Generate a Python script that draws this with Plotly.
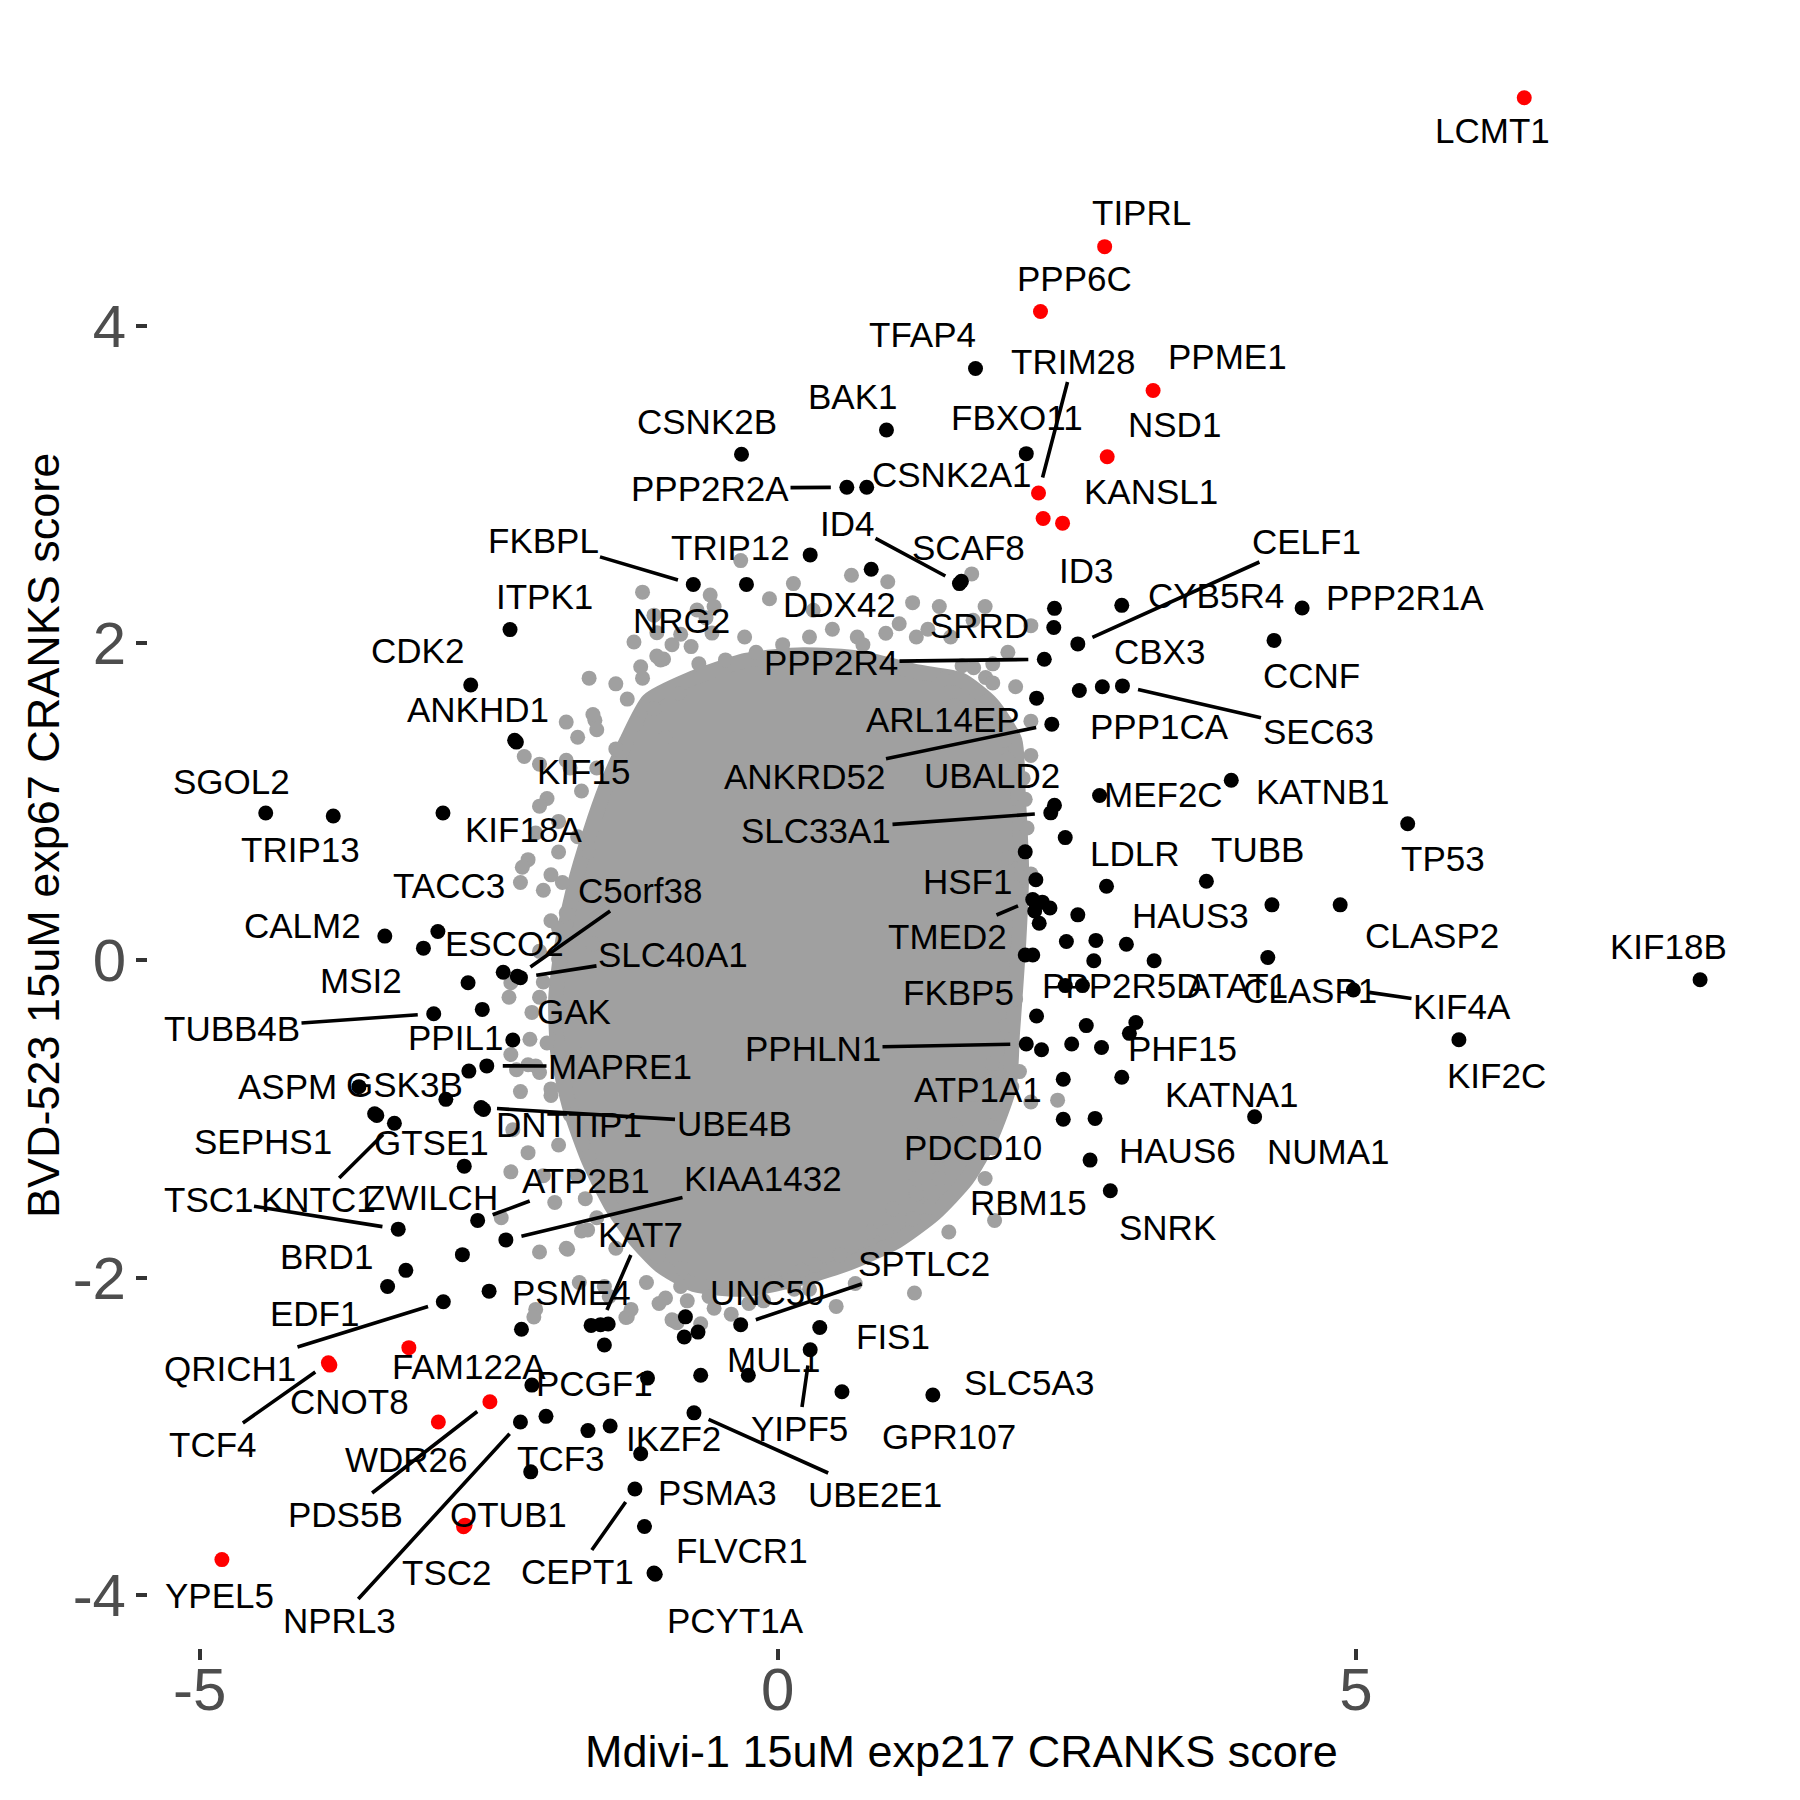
import plotly.graph_objects as go

# ---------------- data ----------------
black_genes = [
    "TFAP4", "BAK1", "CSNK2B", "FBXO11", "PPP2R2A", "CSNK2A1", "ID4", "SCAF8", "TRIP12", "DDX42",
    "FKBPL", "NRG2", "ITPK1", "CDK2", "ANKHD1", "KIF15", "SGOL2", "TRIP13", "KIF18A", "CALM2",
    "TACC3", "ESCO2", "C5orf38", "SLC40A1", "", "MSI2", "TUBB4B", "PPIL1", "GAK", "MAPRE1",
    "GSK3B", "ASPM", "", "UBE4B", "DNTTIP1", "SEPHS1", "GTSE1", "KNTC1", "ZWILCH", "ATP2B1",
    "TSC1", "KIAA1432", "", "BRD1", "EDF1", "PSME4", "QRICH1", "", "", "KAT7",
    "", "", "PCGF1", "", "NPRL3", "", "", "IKZF2", "TCF3", "",
    "CEPT1", "PSMA3", "FLVCR1", "PCYT1A", "SPTLC2", "UNC50", "", "", "FIS1", "YIPF5",
    "MUL1", "", "GPR107", "SLC5A3", "UBE2E1", "ID3", "SRRD", "CELF1", "CYB5R4", "PPP2R4",
    "PPP1CA", "CBX3", "SEC63", "ARL14EP", "ANKRD52", "MEF2C", "KATNB1", "UBALD2", "SLC33A1", "",
    "PPP2R1A", "CCNF", "", "HSF1", "LDLR", "TUBB", "TMED2", "", "", "",
    "", "", "", "", "", "", "", "", "ATAT1", "HAUS3",
    "CLASP2", "CLASP1", "KIF4A", "PPP2R5D", "", "FKBP5", "", "PHF15", "", "PPHLN1",
    "", "", "", "ATP1A1", "KATNA1", "PDCD10", "HAUS6", "RBM15", "SNRK", "KIF2C",
    "NUMA1", "TP53", "KIF18B",
]
black_x = [
    1.710, 0.940, -0.314, 2.149, 0.597, 0.769, 1.571, 1.588, 0.280, 0.808,
    -0.731, -0.271, -2.316, -2.656, -2.276, -2.261, -4.429, -3.845, -2.896, -3.399,
    -2.940, -3.065, -2.253, -2.226, -2.375, -2.679, -2.976, -2.556, -2.292, -2.517,
    -2.672, -3.623, -2.871, -2.567, -2.545, -3.487, -3.468, -3.316, -2.712, -2.596,
    -3.283, -2.352, -2.728, -3.217, -3.375, -2.497, -2.893, -2.217, -1.615, -1.533,
    -1.467, -1.500, -2.127, -1.127, -2.226, -2.005, -1.642, -1.450, -2.137, -1.186,
    -1.236, -1.153, -1.071, -1.060, -0.321, -0.690, -0.799, -0.809, 0.363, 0.280,
    -0.255, -0.667, 0.555, 1.341, -0.725, 2.393, 2.387, 2.595, 2.975, 2.305,
    2.608, 2.807, 2.981, 2.238, 2.370, 2.783, 3.922, 2.393, 2.361, 2.486,
    4.535, 4.292, 2.140, 2.232, 2.843, 3.707, 2.205, 2.288, 2.354, 2.222,
    2.261, 2.595, 2.496, 2.751, 3.015, 2.140, 2.205, 2.733, 3.255, 4.274,
    4.864, 4.238, 4.978, 2.486, 2.635, 2.238, 2.668, 3.097, 3.041, 2.149,
    2.281, 2.542, 2.800, 2.469, 2.975, 2.469, 2.744, 2.701, 2.876, 5.891,
    4.124, 5.448, 7.977,
]
black_y = [
    3.730, 3.342, 3.189, 3.193, 2.981, 2.981, 2.374, 2.388, 2.555, 2.464,
    2.368, 2.369, 2.084, 1.735, 1.386, 1.375, 0.928, 0.909, 0.928, 0.152,
    0.181, 0.076, -0.101, -0.110, -0.076, -0.142, -0.337, -0.310, -0.503, -0.666,
    -0.699, -0.797, -0.877, -0.929, -0.941, -0.968, -0.978, -1.028, -1.298, -1.640,
    -1.695, -1.763, -1.856, -1.955, -2.057, -2.086, -2.153, -2.326, -2.302, -2.297,
    -2.293, -2.425, -2.678, -2.634, -2.911, -2.875, -2.965, -2.936, -3.225, -3.111,
    -3.333, -3.569, -3.863, -3.870, -2.298, -2.344, -2.248, -2.375, -2.315, -2.455,
    -2.616, -2.616, -2.720, -2.741, -2.853, 2.218, 2.097, 1.994, 2.237, 1.897,
    1.700, 1.724, 1.729, 1.652, 1.488, 1.038, 1.134, 0.977, 0.929, 0.773,
    2.220, 2.016, 0.683, 0.507, 0.466, 0.498, 0.382, 0.366, 0.329, 0.310,
    0.233, 0.286, 0.118, 0.125, 0.101, 0.033, 0.033, -0.003, -0.003, 0.349,
    0.349, 0.017, -0.188, -0.160, -0.160, -0.352, -0.412, -0.393, -0.461, -0.528,
    -0.564, -0.528, -0.550, -0.750, -0.738, -1.002, -0.997, -1.260, -1.453, -0.501,
    -0.987, 0.860, -0.123,
]

red_genes = ["LCMT1", "TIPRL", "PPP6C", "PPME1", "NSD1", "TRIM28", "", "KANSL1",
             "TCF4", "CNOT8", "FAM122A", "WDR26", "PDS5B", "OTUB1", "TSC2", "YPEL5"]
red_x = [6.456, 2.827, 2.272, 3.246, 2.849, 2.255, 2.295, 2.463,
         -3.887, -3.874, -3.191, -2.936, -2.490, -2.705, -2.718, -4.808]
red_y = [5.436, 4.498, 4.089, 3.591, 3.174, 2.945, 2.784, 2.755,
         -2.538, -2.552, -2.442, -2.911, -2.783, -3.561, -3.571, -3.778]

# dense core of the grey gene cloud (outline) and the scattered grey genes around it
core_x = [-1.119, -0.772, -0.277, 0.218, 0.713, 1.208, 1.584, 1.851, 2.050, 2.079,
          2.109, 2.079, 2.030, 2.000, 1.851, 1.634, 1.356, 1.030, 0.644, 0.218,
          -0.277, -0.723, -1.020, -1.238, -1.446, -1.634, -1.792, -1.901, -1.921, -1.861,
          -1.762, -1.624, -1.485, -1.307]
core_y = [1.637, 1.767, 1.890, 1.926, 1.904, 1.817, 1.767, 1.615, 1.384, 1.059,
          0.554, 0.049, -0.457, -0.803, -1.106, -1.381, -1.597, -1.771, -1.901, -2.002,
          -2.074, -2.045, -1.923, -1.757, -1.540, -1.266, -0.948, -0.602, -0.240, 0.121,
          0.467, 0.807, 1.095, 1.384]

grey_x = [-1.170, -0.988, -1.186, -1.170, -1.632, -0.856, -1.071, -1.219, -1.582, -1.830,
          -2.193, -2.061, -1.797, -1.996, -2.061, -1.896, -2.094, -2.160, -2.210, -2.226,
          -1.962, -1.863, -1.830, -1.962, -1.599, -2.309, -2.325, -2.127, -2.144, -2.309,
          -2.260, -0.321, 0.637, 0.951, 1.677, 0.135, -0.072, 0.307, 0.472, 0.687,
          1.166, 1.050, 1.397, 1.793, 2.189, 1.990, 1.594, 1.430, 1.529, 2.057,
          -0.750, -1.014, -0.569, -0.287, 2.140, 2.156, 2.189, 1.990, 2.057, 1.974,
          2.090, 2.420, 1.892, 1.793, 1.875, 1.479, 1.314, 1.166, 1.182, 0.670,
          0.505, 0.142, -0.403, -0.667, -1.818, -1.645, -0.826, -0.897, -1.314, -0.250,
          -2.309, -2.392, -2.061, -1.830, -2.094, -2.110, -0.872, -1.302, -1.665, -1.929,
          -2.292, -2.160, -1.698, -1.500, -0.699, -1.046, -1.244, -0.621, 1.689, 1.797,
          1.203, 1.401,
          -0.585, -0.551, 0.274, 0.042, -0.188, -0.453, -0.683, 1.198, 1.859, 2.122,
          2.090, -0.915, -1.047, 2.057, 2.024, 2.189, 1.694, 1.859, 1.397, 1.198,
          0.934, 0.736, 0.373, 0.274, -0.123, -0.551, -0.915, -2.226, -2.061, -1.896,
          -1.731, -2.028, -1.566, -1.401, -1.136, -0.971, -1.269, -1.566, -1.401, -1.731,
          -1.632, -1.566, -1.896, -2.028, -1.896, -1.731, -1.071, -0.840, -1.302, -0.971,
          1.990, 1.958, 2.189, 2.057, 2.106, 2.189, 1.793, 1.694, 1.859, 0.901,
          0.736, 0.934, 1.298, 1.495, -1.401, -1.599, -1.731, -1.830, -1.566, -1.698,
          -1.896, -2.028, -1.896, -2.061, -2.061, -1.996, -2.094, -1.962, -2.160, -1.962,
          -1.797, -1.632, -1.467, -1.236, -1.038, -0.840, 1.859, 1.694, 1.529, 1.397,
          1.198, 1.000, 0.802, 0.538, 0.208, -0.023, -0.287, -0.783, 0.325, -0.595,
          -1.027, -1.458, -1.717]
grey_y = [2.320, 1.899, 1.850, 1.778, 1.778, 1.681, 1.585, 1.489, 1.513, 1.501,
          1.284, 1.236, 1.212, 1.019, 0.971, 0.875, 0.802, 0.634, 0.586, 0.490,
          0.538, 0.490, 0.297, 0.249, 0.104, -0.142, -0.233, -0.329, -0.498, -0.594,
          -0.690, 2.519, 2.427, 2.386, 2.435, 2.374, 2.278, 2.206, 2.086, 2.037,
          2.254, 2.121, 2.230, 2.230, 2.109, 1.941, 1.856, 1.772, 1.603, 1.724,
          1.977, 1.893, 2.062, 2.037, 1.014, 0.833, 1.291, 0.647, -0.244, -0.412,
          -0.702, -0.882, -0.966, -1.376, -1.641, -1.713, -1.556, -1.629, -2.098, -2.038,
          -2.182, -2.074, -2.231, -2.291, -1.822, -1.700, -1.943, -2.274, -2.252, -2.164,
          -1.334, -1.623, -1.839, -1.816, -2.201, -2.249, -2.285, -2.249, -1.503, -1.527,
          -1.069, -1.213, -1.707, -2.057, 2.208, 2.064, 2.006, 2.158, 2.143, 1.782,
          -1.108, -1.325,
          2.302, 2.230, 2.037, 1.989, 1.941, 1.893, 1.868, 2.037, 1.748, 1.146,
          0.665, 1.989, 1.917, 0.454, -0.798, -0.894, -1.135, -1.183, -1.376, -1.472,
          -1.713, -1.858, -1.954, -2.074, -2.147, -2.194, -2.267, -0.828, -0.708, -1.165,
          -1.358, -1.358, -1.623, -1.816, -2.031, -2.129, -2.201, 1.453, 1.332, 0.778,
          0.682, 0.369, 0.008, -0.137, -0.425, -0.594, 2.175, 2.055, 1.646, 1.405,
          1.267, 1.387, 1.507, 0.929, 0.688, 0.544, 1.628, 1.844, 1.868, 1.868,
          1.989, 2.061, 2.086, 2.037, 1.742, 1.549, 1.405, 1.260, 1.212, 1.067,
          0.682, 0.441, 0.201, 0.056, -0.233, -0.522, -0.666, -0.811, -0.659, -0.852,
          -0.973, -1.238, -1.430, -1.671, -1.864, -2.057, -0.653, -0.846, -1.038, -1.232,
          -1.376, -1.568, -1.713, -1.858, -1.954, -2.026, -2.074, -2.147, -1.921, -2.119,
          -2.164, -2.119, -2.031]

x_ticks = [-5, 0, 5]
x_tick_labels = ["-5", "0", "5"]
y_ticks = [-4, -2, 0, 2, 4]
y_tick_labels = ["-4", "-2", "0", "2", "4"]

x_title = "Mdivi-1 15uM exp217 CRANKS score"
y_title = "BVD-523 15uM exp67 CRANKS score"

# ---------------- label placement (repelled label centres, page pixels) ----------------
LABEL_PX = {
    "LCMT1": (1492, 130), "TIPRL": (1141, 212), "PPP6C": (1074, 278), "PPME1": (1227, 356),
    "TFAP4": (922, 334), "TRIM28": (1073, 361), "BAK1": (853, 396), "CSNK2B": (707, 421),
    "FBXO11": (1017, 417), "NSD1": (1174, 424), "PPP2R2A": (710, 488), "CSNK2A1": (952, 474),
    "KANSL1": (1151, 491), "ID4": (847, 523), "TRIP12": (730, 547), "SCAF8": (968, 547),
    "CELF1": (1306, 541), "FKBPL": (543, 540), "ITPK1": (544, 596), "ID3": (1086, 570),
    "NRG2": (681, 620), "DDX42": (839, 604), "CYB5R4": (1216, 595), "PPP2R1A": (1405, 597),
    "SRRD": (979, 625), "CDK2": (417, 650), "PPP2R4": (831, 662), "CBX3": (1159, 651),
    "CCNF": (1311, 675), "ANKHD1": (478, 709), "ARL14EP": (943, 719), "PPP1CA": (1159, 726),
    "SEC63": (1318, 731), "KIF15": (583, 771), "ANKRD52": (804, 776), "UBALD2": (992, 775),
    "SGOL2": (231, 781), "MEF2C": (1163, 794), "KATNB1": (1323, 791), "KIF18A": (523, 829),
    "SLC33A1": (816, 830), "TRIP13": (300, 849), "LDLR": (1134, 853), "TUBB": (1257, 849),
    "TP53": (1443, 858), "TACC3": (449, 885), "HSF1": (967, 881), "C5orf38": (640, 890),
    "CALM2": (302, 925), "HAUS3": (1190, 915), "TMED2": (947, 936), "CLASP2": (1432, 935),
    "ESCO2": (504, 943), "KIF18B": (1668, 946), "SLC40A1": (673, 954), "MSI2": (361, 980),
    "FKBP5": (958, 992), "PPP2R5D": (1122, 985), "ATAT1": (1237, 985), "CLASP1": (1310, 990),
    "KIF4A": (1462, 1006), "TUBB4B": (232, 1028), "GAK": (574, 1011), "PPIL1": (455, 1037),
    "PPHLN1": (813, 1048), "PHF15": (1182, 1048), "MAPRE1": (620, 1066), "KIF2C": (1496, 1075),
    "ASPM": (287, 1086), "GSK3B": (404, 1084), "ATP1A1": (978, 1089), "KATNA1": (1232, 1094),
    "DNTTIP1": (569, 1124), "UBE4B": (734, 1123), "SEPHS1": (263, 1141), "GTSE1": (431, 1142),
    "PDCD10": (973, 1147), "HAUS6": (1177, 1150), "NUMA1": (1328, 1151), "ATP2B1": (586, 1180),
    "KIAA1432": (763, 1178), "TSC1": (208, 1199), "KNTC1": (318, 1199), "ZWILCH": (431, 1197),
    "RBM15": (1028, 1202), "SNRK": (1167, 1227), "KAT7": (640, 1234), "BRD1": (326, 1256),
    "SPTLC2": (924, 1263), "PSME4": (571, 1292), "UNC50": (767, 1292), "EDF1": (314, 1313),
    "FIS1": (893, 1336), "MUL1": (773, 1359), "FAM122A": (469, 1366), "QRICH1": (230, 1368),
    "PCGF1": (594, 1383), "SLC5A3": (1029, 1382), "CNOT8": (349, 1401), "YIPF5": (799, 1428),
    "GPR107": (949, 1436), "IKZF2": (673, 1438), "TCF4": (213, 1444), "WDR26": (406, 1459),
    "TCF3": (561, 1458), "PSMA3": (717, 1492), "UBE2E1": (875, 1494), "PDS5B": (345, 1514),
    "OTUB1": (508, 1514), "CEPT1": (577, 1571), "FLVCR1": (742, 1550), "TSC2": (446, 1572),
    "YPEL5": (219, 1595), "NPRL3": (339, 1620), "PCYT1A": (735, 1620),
}
WITH_SEGMENT = {"TRIM28", "PPP2R2A", "ID4", "CELF1", "FKBPL", "PPP2R4", "SEC63", "ANKRD52",
                "SLC33A1", "C5orf38", "TMED2", "SLC40A1", "KIF4A", "TUBB4B", "PPHLN1", "MAPRE1",
                "UBE4B", "ATP2B1", "KIAA1432", "TSC1", "KNTC1", "KAT7", "SPTLC2", "QRICH1",
                "YIPF5", "TCF4", "UBE2E1", "PDS5B", "CEPT1", "NPRL3"}

# ---------------- figure geometry ----------------
PAGE_OFF = 8                      # the html body margin
W = H = 1800 - PAGE_OFF
L, R, T, B = 148 - PAGE_OFF, 1774 - PAGE_OFF, 24 - PAGE_OFF, 1648 - PAGE_OFF

def expand(lo, hi, f=0.05):
    span = hi - lo
    return [lo - f * span, hi + f * span]

all_x = black_x + red_x
all_y = black_y + red_y
xr = expand(min(all_x), max(all_x))
yr = expand(min(all_y), max(all_y))

def px_to_data(px, py):
    px -= PAGE_OFF
    py -= PAGE_OFF
    return (xr[0] + (px - L) / (R - L) * (xr[1] - xr[0]),
            yr[1] - (py - T) / (B - T) * (yr[1] - yr[0]))

GREY = "#A0A0A0"
FONT = "Liberation Sans, Arial, Helvetica, sans-serif"
PT = 15

fig = go.Figure()
fig.add_trace(go.Scatter(x=core_x + core_x[:1], y=core_y + core_y[:1], mode="lines",
                         fill="toself", fillcolor=GREY,
                         line=dict(color=GREY, width=PT, shape="spline", smoothing=0.6),
                         hoverinfo="skip", showlegend=False))
fig.add_trace(go.Scatter(x=grey_x, y=grey_y, mode="markers",
                         marker=dict(color=GREY, size=PT, line=dict(width=0)),
                         showlegend=False))
fig.add_trace(go.Scatter(x=black_x, y=black_y, mode="markers", text=black_genes,
                         marker=dict(color="black", size=PT, line=dict(width=0)),
                         showlegend=False))
fig.add_trace(go.Scatter(x=red_x, y=red_y, mode="markers", text=red_genes,
                         marker=dict(color="#FF0000", size=PT, line=dict(width=0)),
                         showlegend=False))

coords = {}
for g, x, y in zip(black_genes, black_x, black_y):
    if g:
        coords[g] = (x, y)
for g, x, y in zip(red_genes, red_x, red_y):
    if g:
        coords[g] = (x, y)

annotations = []
for g, (lpx, lpy) in LABEL_PX.items():
    lx, ly = px_to_data(lpx, lpy)
    if g in WITH_SEGMENT:
        gx, gy = coords[g]
        annotations.append(dict(x=gx, y=gy, ax=lx, ay=ly, axref="x", ayref="y", xref="x", yref="y",
                                text=g, showarrow=True, arrowhead=0, arrowwidth=3.6,
                                arrowcolor="black", standoff=16, startstandoff=0,
                                font=dict(family=FONT, size=35, color="black")))
    else:
        annotations.append(dict(x=lx, y=ly, xref="x", yref="y", text=g, showarrow=False,
                                xanchor="center", yanchor="middle",
                                font=dict(family=FONT, size=35, color="black")))

# axis titles
annotations.append(dict(x=0.5, y=-(1751 - PAGE_OFF - B) / (B - T), xref="paper", yref="paper",
                        text=x_title, showarrow=False, xanchor="center", yanchor="middle",
                        font=dict(family=FONT, size=45, color="black")))
annotations.append(dict(x=(43 - PAGE_OFF - L) / (R - L), y=0.5, xref="paper", yref="paper",
                        text=y_title, showarrow=False, textangle=-90,
                        xanchor="center", yanchor="middle",
                        font=dict(family=FONT, size=45, color="black")))

axis_common = dict(showgrid=False, zeroline=False, showline=False, ticks="outside",
                   ticklen=11, tickwidth=4, tickcolor="#333333",
                   tickfont=dict(family=FONT, size=60, color="#4D4D4D"))
fig.update_layout(
    width=W, height=H,
    margin=dict(l=L, r=W - R, t=T, b=H - B),
    paper_bgcolor="white", plot_bgcolor="white",
    showlegend=False,
    xaxis=dict(range=xr, tickvals=x_ticks, ticktext=x_tick_labels, ticklabelstandoff=-22,
               **axis_common),
    yaxis=dict(range=yr, tickvals=y_ticks, ticktext=y_tick_labels, ticklabelstandoff=-2,
               **axis_common),
    annotations=annotations,
)
fig.write_html("out.html")
